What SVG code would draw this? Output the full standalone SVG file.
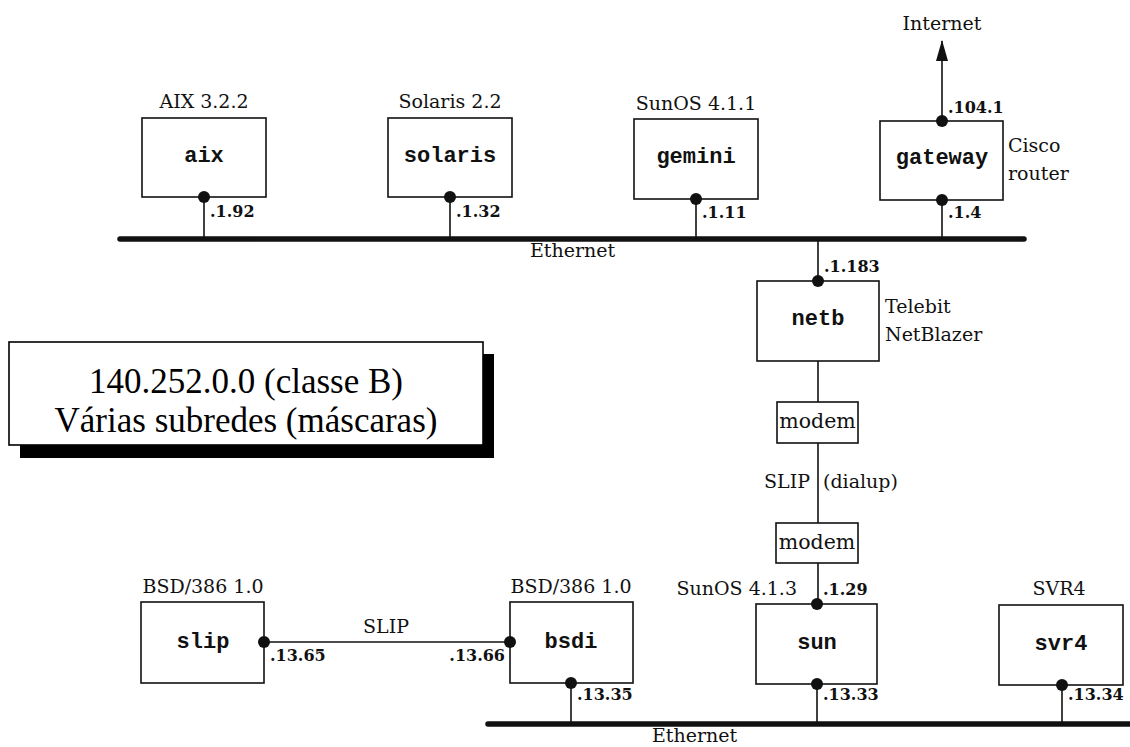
<svg xmlns="http://www.w3.org/2000/svg" width="1130" height="747" viewBox="0 0 1130 747">
<defs>
<style>
.box{fill:#fff;stroke:#111;stroke-width:1.6}
.ln{stroke:#111;stroke-width:1.6;fill:none}
.eth{stroke:#111;stroke-width:5.5;stroke-linecap:round}
.dot{fill:#111}
.lbl{font-family:"DejaVu Serif","Liberation Serif",serif;font-size:19px;fill:#111}
.addr{font-family:"DejaVu Serif","Liberation Serif",serif;font-size:16px;font-weight:bold;fill:#111}
.name{font-family:"Liberation Mono","Courier New",monospace;font-size:22px;font-weight:bold;fill:#111;text-anchor:middle}
.modem{font-family:"DejaVu Serif","Liberation Serif",serif;font-size:20.5px;fill:#111;text-anchor:middle}
.mid{text-anchor:middle}
.end{text-anchor:end}
.callout{font-family:"Liberation Serif","Times New Roman",serif;font-size:35px;fill:#000;text-anchor:middle}
</style>
<marker id="arrow" viewBox="0 0 10 10" refX="10" refY="5" markerWidth="10" markerHeight="20" markerUnits="userSpaceOnUse" orient="auto">
<path d="M0,0 L10,5 L0,10 z" fill="#111"/>
</marker>
</defs>
<rect width="1130" height="747" fill="#fff"/>

<g id="connectors">
<line class="eth" x1="120" y1="239" x2="1024" y2="239"/>
<line class="eth" x1="488" y1="724" x2="1132" y2="724"/>
<line class="ln" x1="204" y1="197" x2="204" y2="239"/>
<line class="ln" x1="450" y1="197" x2="450" y2="239"/>
<line class="ln" x1="696" y1="199" x2="696" y2="239"/>
<line class="ln" x1="942" y1="200" x2="942" y2="239"/>
<line class="ln" x1="942" y1="121" x2="942" y2="41" stroke-width="2.2"/>
<path d="M936,61 L942,40 L948,61 z" fill="#111"/>
<line class="ln" x1="818" y1="239" x2="818" y2="281"/>
<line class="ln" x1="818" y1="361" x2="818" y2="402"/>
<line class="ln" x1="818" y1="443" x2="818" y2="523"/>
<line class="ln" x1="818" y1="563" x2="818" y2="604"/>
<line class="ln" x1="264" y1="642" x2="510" y2="642"/>
<line class="ln" x1="571" y1="683" x2="571" y2="724"/>
<line class="ln" x1="817" y1="684" x2="817" y2="724"/>
<line class="ln" x1="1062" y1="685" x2="1062" y2="724"/>
<text class="lbl" x="530" y="257">Ethernet</text>
<text class="lbl" x="652" y="742">Ethernet</text>
<text class="lbl mid" x="942" y="30">Internet</text>
<text class="lbl" x="764" y="488">SLIP</text>
<text class="lbl" x="823" y="488">(dialup)</text>
<text class="lbl mid" x="386" y="633">SLIP</text>
</g>

<g id="callout">
<rect x="20" y="354" width="474" height="104" fill="#000"/>
<rect x="9" y="342" width="474" height="103" fill="#fff" stroke="#000" stroke-width="1.6"/>
<text class="callout" x="246" y="393">140.252.0.0 (classe B)</text>
<text class="callout" x="246" y="432">Várias subredes (máscaras)</text>
</g>

<g id="aix">
<text class="lbl mid" x="204" y="108">AIX 3.2.2</text>
<rect class="box" x="142" y="118" width="124" height="79"/>
<text class="name" x="204" y="162">aix</text>
<circle class="dot" cx="204" cy="197" r="6"/>
<text class="addr" x="210" y="217">.1.92</text>
</g>

<g id="solaris">
<text class="lbl mid" x="450" y="108">Solaris 2.2</text>
<rect class="box" x="388" y="118" width="124" height="79"/>
<text class="name" x="450" y="162">solaris</text>
<circle class="dot" cx="450" cy="197" r="6"/>
<text class="addr" x="456" y="217">.1.32</text>
</g>

<g id="gemini">
<text class="lbl mid" x="696" y="110">SunOS 4.1.1</text>
<rect class="box" x="634" y="119" width="124" height="80"/>
<text class="name" x="696" y="163">gemini</text>
<circle class="dot" cx="696" cy="199" r="6"/>
<text class="addr" x="702" y="218">.1.11</text>
</g>

<g id="gateway">
<rect class="box" x="880" y="121" width="123" height="79"/>
<text class="name" x="942" y="164">gateway</text>
<circle class="dot" cx="942" cy="121" r="6"/>
<circle class="dot" cx="942" cy="200" r="6"/>
<text class="addr" x="948" y="113">.104.1</text>
<text class="addr" x="948" y="218">.1.4</text>
<text class="lbl" x="1008" y="152">Cisco</text>
<text class="lbl" x="1008" y="180">router</text>
</g>

<g id="netb">
<rect class="box" x="757" y="281" width="122" height="80"/>
<text class="name" x="818" y="325">netb</text>
<circle class="dot" cx="818" cy="281" r="6"/>
<text class="addr" x="824" y="272">.1.183</text>
<text class="lbl" x="885" y="313">Telebit</text>
<text class="lbl" x="885" y="341">NetBlazer</text>
</g>

<g id="modem1">
<rect class="box" x="777" y="402" width="81" height="41"/>
<text class="modem" x="817.5" y="428">modem</text>
</g>

<g id="modem2">
<rect class="box" x="776" y="523" width="82" height="40"/>
<text class="modem" x="817" y="549">modem</text>
</g>

<g id="slip">
<text class="lbl mid" x="203" y="593">BSD/386 1.0</text>
<rect class="box" x="141" y="602" width="123" height="81"/>
<text class="name" x="203" y="648">slip</text>
<circle class="dot" cx="264" cy="642" r="6"/>
<text class="addr" x="270" y="661">.13.65</text>
</g>

<g id="bsdi">
<text class="lbl mid" x="571" y="593">BSD/386 1.0</text>
<rect class="box" x="510" y="602" width="123" height="81"/>
<text class="name" x="571" y="648">bsdi</text>
<circle class="dot" cx="510" cy="642" r="6"/>
<circle class="dot" cx="571" cy="683" r="6"/>
<text class="addr end" x="505" y="661">.13.66</text>
<text class="addr" x="577" y="700">.13.35</text>
</g>

<g id="sun">
<text class="lbl end" x="797" y="595">SunOS 4.1.3</text>
<rect class="box" x="756" y="604" width="121" height="80"/>
<text class="name" x="817" y="649">sun</text>
<circle class="dot" cx="817" cy="604" r="6"/>
<circle class="dot" cx="817" cy="684" r="6"/>
<text class="addr" x="823" y="595">.1.29</text>
<text class="addr" x="823" y="700">.13.33</text>
</g>

<g id="svr4">
<text class="lbl mid" x="1059" y="595">SVR4</text>
<rect class="box" x="999" y="605" width="124" height="80"/>
<text class="name" x="1061" y="650">svr4</text>
<circle class="dot" cx="1062" cy="685" r="6"/>
<text class="addr" x="1068" y="700">.13.34</text>
</g>
</svg>
